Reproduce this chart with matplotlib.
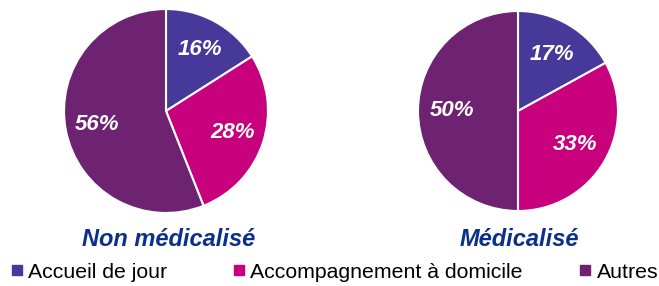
import matplotlib.pyplot as plt
from matplotlib.lines import Line2D

categories = ["Accueil de jour", "Accompagnement à domicile", "Autres"]
non_medicalise = [16, 28, 56]
medicalise = [17, 33, 50]
titles = ["Non médicalisé", "Médicalisé"]

colors = ["#46399a", "#c8007d", "#6e2272"]
title_color = "#0b2f8a"

plt.rcParams['font.family'] = ['Liberation Sans', 'DejaVu Sans']

fig = plt.figure(figsize=(6.59, 2.86), dpi=100)

boxes = [
    [(166 - 103) / 659, (286 - 111 - 103) / 286, 206 / 659, 206 / 286],
    [(518 - 101) / 659, (286 - 111 - 101) / 286, 202 / 659, 202 / 286],
]
label_dist = [0.69, 0.66]
title_x = [169 / 659, 519 / 659]

for k, values in enumerate([non_medicalise, medicalise]):
    ax = fig.add_axes(boxes[k])
    wedges, texts = ax.pie(values, colors=colors, startangle=90, counterclock=False,
                           labels=[f"{v}%" for v in values], labeldistance=label_dist[k],
                           wedgeprops=dict(edgecolor="white", linewidth=1.5))
    for t in texts:
        t.set_color("white")
        t.set_fontsize(16)
        t.set_fontweight("bold")
        t.set_fontstyle("italic")
        t.set_ha("center")
        t.set_va("center")
    ax.set_xlim(-1.01, 1.01)
    ax.set_ylim(-1.01, 1.01)
    fig.text(title_x[k], 1 - 240 / 286, titles[k], ha="center", va="center",
             fontsize=17, fontweight="bold", fontstyle="italic", color=title_color)

# one legend entry per category, placed like the original
legend_x = [3, 225, 571]
for name, c, x in zip(categories, colors, legend_x):
    h = Line2D([], [], marker="s", linestyle="none", markersize=7, color=c)
    fig.legend([h], [name], loc="center left", bbox_to_anchor=(x / 659, 1 - 272 / 286),
               frameon=False, fontsize=15.3, handletextpad=0.1,
               handlelength=0.9, borderaxespad=0, borderpad=0.2)

plt.savefig("out.png", dpi=100)
